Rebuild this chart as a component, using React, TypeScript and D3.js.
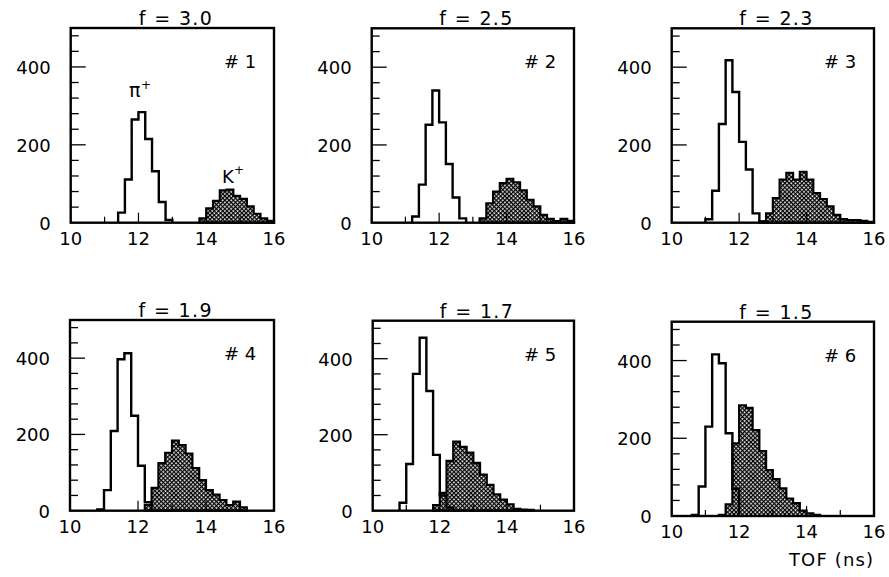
import React from 'react';
import * as d3 from 'd3';

// TOF histograms, 30 bins of 0.2 ns from 10 to 16 ns
const binStart = 10;
const binWidth = 0.2;
const xTicks = [10, 12, 14, 16];
const xMinor = [11, 12, 13, 14, 15];
const yLabels = [0, 200, 400];
const yMinor = [40, 80, 120, 160, 200, 240, 280, 320, 360, 400, 440, 480];

const fValues = ['3.0', '2.5', '2.3', '1.9', '1.7', '1.5'];
const panelNums = ['1', '2', '3', '4', '5', '6'];

const pi1 = [0,0,0,0,0,0,0,26,111,265,284,215,132,53,7,0,0,0,0,0,0,0,0,0,0,0,0,0,0,0];
const k1  = [0,0,0,0,0,0,0,0,0,0,0,0,0,0,0,0,0,0,0,11,37,56,83,85,69,61,42,23,11,5];
const pi2 = [0,0,0,0,0,0,16,98,252,340,258,151,65,11,0,0,0,0,0,0,0,0,0,0,0,0,0,0,0,0];
const k2  = [0,0,0,0,0,0,0,0,0,0,0,0,0,0,0,0,11,50,80,102,113,104,83,59,42,20,10,4,10,5];
const pi3 = [0,0,0,0,0,9,82,254,418,336,208,137,24,3,0,0,0,0,0,0,0,0,0,0,0,0,0,0,0,0];
const k3  = [0,0,0,0,0,0,0,0,0,0,0,0,0,3,24,63,111,128,111,131,111,76,61,42,20,9,7,7,5,2];
const pi4 = [0,0,0,0,3,54,209,397,413,249,118,22,0,0,0,0,0,0,0,0,0,0,0,0,0,0,0,0,0,0];
const k4  = [0,0,0,0,0,0,0,0,0,0,0,15,60,125,152,184,172,150,112,80,54,42,28,15,24,9,0,0,0,0];
const pi5 = [0,0,0,0,21,123,360,455,315,147,40,8,0,0,0,0,0,0,0,0,0,0,0,0,0,0,0,0,0,0];
const k5  = [0,0,0,0,0,0,0,0,0,15,47,131,182,168,153,126,95,68,43,29,17,5,3,2,0,0,0,0,0,0];
const pi6 = [0,0,0,3,76,230,416,393,213,70,0,0,0,0,0,0,0,0,0,0,0,0,0,0,0,0,0,0,0,0];
const k6  = [0,0,0,0,0,0,0,3,30,187,285,278,221,167,118,95,71,45,33,14,7,3,0,0,0,0,0,0,0,0];

const pions = [pi1, pi2, pi3, pi4, pi5, pi6];
const kaons = [k1, k2, k3, k4, k5, k6];

// frame boxes of the six panels
const frames = [
  { x0: 70.7, x1: 274, y0: 28, y1: 222.7 },
  { x0: 371.7, x1: 574, y0: 28.3, y1: 222.7 },
  { x0: 671.7, x1: 874, y0: 28.3, y1: 222.7 },
  { x0: 70, x1: 274, y0: 320, y1: 510.7 },
  { x0: 372.7, x1: 574, y0: 320.7, y1: 510.7 },
  { x0: 671.7, x1: 874, y0: 321.7, y1: 516 },
];

const font = '"DejaVu Sans", Arial, sans-serif';

function stepPoints(values: number[]) {
  let first = values.findIndex(v => v > 0);
  let last = values.length - 1;
  while (last > 0 && values[last] === 0) last--;
  const pts: [number, number][] = [];
  pts.push([binStart + first * binWidth, 0]);
  for (let i = first; i <= last; i++) {
    pts.push([binStart + i * binWidth, values[i]]);
    pts.push([binStart + (i + 1) * binWidth, values[i]]);
  }
  pts.push([binStart + (last + 1) * binWidth, 0]);
  return pts;
}

function Panel({ idx }: { idx: number }) {
  const fr = frames[idx];
  const x = d3.scaleLinear().domain([10, 16]).range([fr.x0, fr.x1]);
  const y = d3.scaleLinear().domain([0, 500]).range([fr.y1, fr.y0]);
  const line = d3.line<[number, number]>().x(d => x(d[0])).y(d => y(d[1]));
  const kPath = line(stepPoints(kaons[idx])) + 'Z';
  const piPath = line(stepPoints(pions[idx]));

  return (
    <g>
      <path d={kPath} fill="url(#hatch)" stroke="#000" strokeWidth={2.2} />
      <path d={piPath!} fill="none" stroke="#000" strokeWidth={2.4} />
      <rect x={fr.x0} y={fr.y0} width={fr.x1 - fr.x0} height={fr.y1 - fr.y0}
        fill="none" stroke="#000" strokeWidth={2.4} />
      {yMinor.map(v => (
        <line key={'y' + v} x1={fr.x0} x2={fr.x0 + (v % 200 === 0 ? 15 : 8)} y1={y(v)} y2={y(v)}
          stroke="#000" strokeWidth={1.3} />
      ))}
      {xMinor.map(v => (
        <line key={'x' + v} x1={x(v)} x2={x(v)} y1={fr.y1} y2={fr.y1 - (v % 2 === 0 ? 10 : 6)}
          stroke="#000" strokeWidth={1.2} />
      ))}
      {yLabels.map(v => (
        <text key={'yl' + v} x={fr.x0 - 20} y={y(v) + 7} textAnchor="end" fontSize={18}
          fontFamily={font}>{v}</text>
      ))}
      {xTicks.map(v => (
        <text key={'xl' + v} x={x(v)} y={fr.y1 + 22} textAnchor="middle" fontSize={18}
          fontFamily={font}>{v}</text>
      ))}
      <text x={(fr.x0 + fr.x1) / 2 + 3} y={fr.y0 - 3} textAnchor="middle" fontSize={19}
        fontFamily={font} textLength={73} lengthAdjust="spacing">{'f = ' + fValues[idx]}</text>
      <text x={fr.x1 - 50} y={fr.y0 + 40} fontSize={18} fontFamily={font}>{'# ' + panelNums[idx]}</text>
    </g>
  );
}

export default function App() {
  return (
    <svg width={889} height={577} style={{ position: 'absolute', left: 0, top: 0, background: '#fff' }}>
      <defs>
        <pattern id="hatch" patternUnits="userSpaceOnUse" width={3} height={3}
          patternTransform="rotate(45)">
          <rect width={3} height={3} fill="#fff" />
          <rect width={3} height={1.3} fill="#000" />
          <rect width={1.3} height={3} fill="#000" />
        </pattern>
      </defs>
      {frames.map((_, i) => <Panel key={i} idx={i} />)}
      <text x={129} y={97} fontSize={19} fontFamily={font}>π</text>
      <text x={141} y={89} fontSize={12} fontFamily={font}>+</text>
      <text x={222} y={183} fontSize={18} fontFamily={font}>K</text>
      <text x={234} y={174} fontSize={12} fontFamily={font}>+</text>
      <text x={873} y={566} textAnchor="end" fontSize={18} fontFamily={font}
        textLength={84} lengthAdjust="spacing">TOF (ns)</text>
    </svg>
  );
}
